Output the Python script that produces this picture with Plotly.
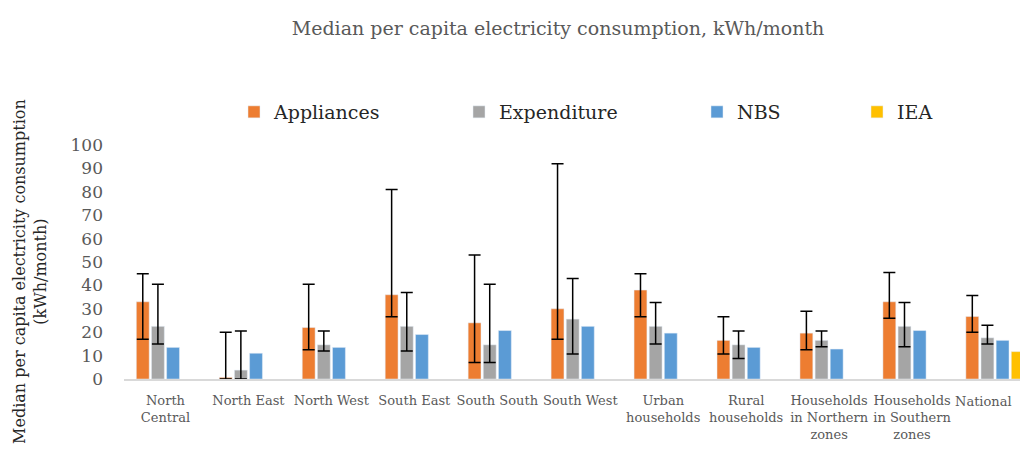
import plotly.graph_objects as go

categories = ["North<br>Central", "North East", "North West", "South East", "South South",
              "South West", "Urban<br>households", "Rural<br>households",
              "Households<br>in Northern<br>zones", "Households<br>in Southern<br>zones",
              "National"]

appliances = [33, 0.7, 22, 36, 24, 30, 38, 16.5, 19.6, 33, 26.7]
app_high = [45, 20, 40.5, 81, 53, 92, 45, 26.6, 29, 45.5, 35.7]
app_low = [17, 0, 12.5, 26.6, 7, 17, 26.6, 10.7, 12.5, 26, 20]

expenditure = [22.5, 3.8, 14.6, 22.5, 14.6, 25.6, 22.5, 14.6, 16.5, 22.5, 17.6]
exp_high = [40.5, 20.5, 20.5, 37, 40.5, 43, 32.7, 20.5, 20.5, 32.7, 23]
exp_low = [15, 0, 12, 12, 7, 10.7, 15, 8.8, 13.8, 13.8, 15]

nbs = [13.5, 11, 13.5, 19, 20.7, 22.5, 19.6, 13.5, 12.8, 20.7, 16.5]
iea = [None] * 10 + [11.7]

y_ticks = [0, 10, 20, 30, 40, 50, 60, 70, 80, 90, 100]

FONT = "DejaVu Serif"
GREY_TXT = "#595959"

def err(vals, hi, lo):
    return dict(type="data", symmetric=False,
                array=[h - v for v, h in zip(vals, hi)],
                arrayminus=[v - l for v, l in zip(vals, lo)],
                color="#000000", thickness=1.5, width=6)

x_idx = list(range(len(categories)))
# last category label is drawn as an annotation so it stays inside the page edge
tick_text = categories[:-1] + [""]

fig = go.Figure()
fig.add_trace(go.Bar(x=x_idx, y=appliances, name="Appliances", marker_color="#ED7D31",
                     error_y=err(appliances, app_high, app_low), legend="legend"))
fig.add_trace(go.Bar(x=x_idx, y=expenditure, name="Expenditure", marker_color="#A5A5A5",
                     error_y=err(expenditure, exp_high, exp_low), legend="legend2"))
fig.add_trace(go.Bar(x=x_idx, y=nbs, name="NBS", marker_color="#5B9BD5", legend="legend3"))
fig.add_trace(go.Bar(x=x_idx, y=iea, name="IEA", marker_color="#FFC000", legend="legend4"))

W, H = 1020, 468
left, right_full = 123.5, 1036.5
step = (right_full - left) / len(categories)
x_max = 10.5 - (right_full - W) / step

def leg(xpx):
    return dict(x=xpx / W, xref="container", y=1 - 112 / H, yref="container",
                xanchor="left", yanchor="middle", orientation="h",
                font=dict(family=FONT, size=19, color="#262626"),
                bgcolor="rgba(0,0,0,0)", itemwidth=30)

fig.update_layout(
    width=W, height=H, showlegend=True,
    margin=dict(l=left, r=0, t=145, b=H - 379.5, autoexpand=False),
    paper_bgcolor="white", plot_bgcolor="white",
    barmode="group", bargap=0.27, bargroupgap=0.15,
    title=dict(text="Median per capita electricity consumption, kWh/month",
               x=558 / W, xanchor="center", xref="container",
               y=1 - 28 / H, yanchor="middle", yref="container",
               font=dict(family=FONT, size=19, color=GREY_TXT)),
    legend=leg(234), legend2=leg(459), legend3=leg(697), legend4=leg(857),
    xaxis=dict(range=[-0.5, x_max], tickmode="array", tickvals=x_idx, ticktext=tick_text,
               showline=True, linecolor="#D9D9D9", linewidth=1.5, ticks="",
               showgrid=False, zeroline=False, ticklabelstandoff=9,
               tickfont=dict(family=FONT, size=13, color=GREY_TXT), tickangle=0),
    yaxis=dict(range=[0, 100], tickmode="array", tickvals=y_ticks,
               showgrid=False, zeroline=False, showline=False, ticks="",
               ticklabelstandoff=20,
               tickfont=dict(family=FONT, size=17, color=GREY_TXT)),
    annotations=[
        dict(text="Median per capita electricity consumption<br>(kWh/month)",
             textangle=-90, xref="paper", yref="paper",
             x=(30 - left) / (W - left), y=0.46, xanchor="center", yanchor="middle",
             showarrow=False, font=dict(family=FONT, size=16, color="#262626")),
        dict(text=categories[-1], xref="x", x=x_idx[-1], yref="paper", y=0,
             xanchor="center", yanchor="top", xshift=-12, yshift=-13, showarrow=False,
             font=dict(family=FONT, size=13, color=GREY_TXT)),
    ],
)

fig.write_html("out.html", config={"displayModeBar": False},
               post_script="document.body.style.margin='0px';")
